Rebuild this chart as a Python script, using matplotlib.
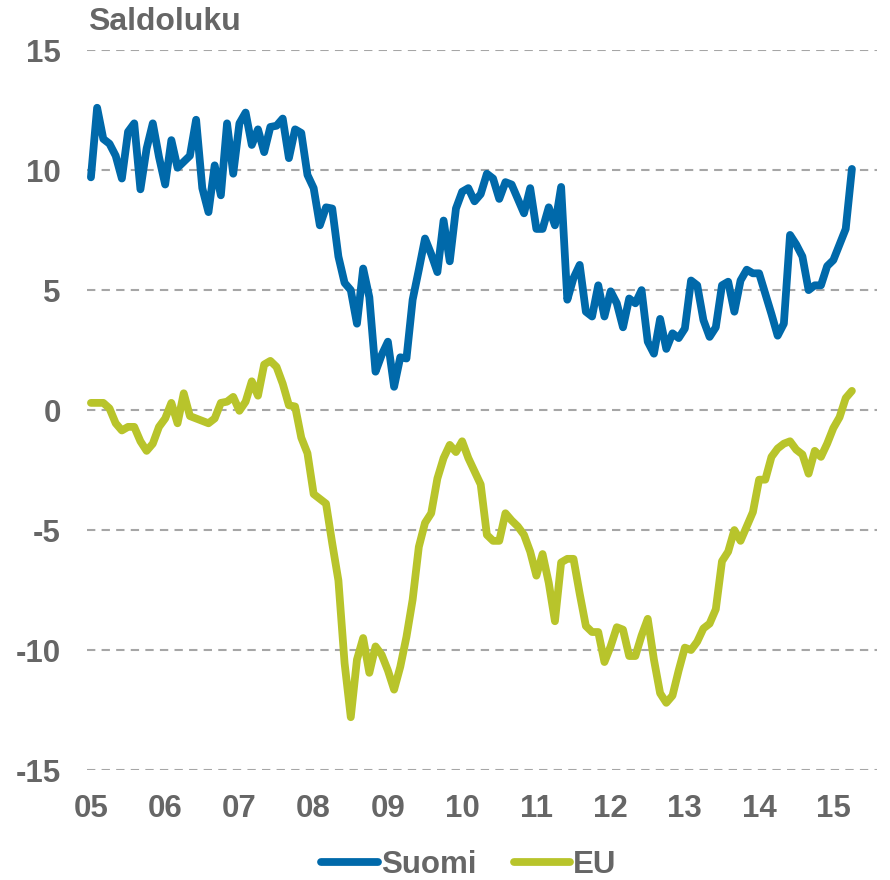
import matplotlib
matplotlib.use("Agg")
from matplotlib import pyplot as plt

# monthly balance figures, Jan 2005 - Apr 2015
suomi = [9.7, 12.6, 11.3, 11.1, 10.6, 9.65, 11.6, 11.95, 9.2, 10.9, 11.95, 10.55,
         9.4, 11.25, 10.1, 10.35, 10.6, 12.1, 9.25, 8.25, 10.2, 8.95, 11.95, 9.85,
         11.95, 12.4, 11.05, 11.7, 10.75, 11.8, 11.85, 12.15, 10.5, 11.7, 11.55, 9.8,
         9.25, 7.7, 8.45, 8.4, 6.4, 5.3, 5.0, 3.6, 5.9, 4.7, 1.6, 2.3,
         2.85, 0.97, 2.2, 2.15, 4.6, 5.85, 7.15, 6.5, 5.75, 7.9, 6.2, 8.4,
         9.1, 9.25, 8.7, 9.0, 9.85, 9.65, 8.8, 9.5, 9.4, 8.8, 8.2, 9.25,
         7.55, 7.55, 8.45, 7.7, 9.3, 4.6, 5.5, 6.05, 4.1, 3.9, 5.2, 3.9,
         4.95, 4.45, 3.45, 4.65, 4.45, 5.0, 2.85, 2.35, 3.8, 2.55, 3.2, 3.0,
         3.4, 5.4, 5.2, 3.75, 3.05, 3.45, 5.2, 5.35, 4.1, 5.4, 5.85, 5.7,
         5.7, 4.85, 4.0, 3.1, 3.6, 7.3, 6.9, 6.4, 5.0, 5.2, 5.2, 6.0,
         6.25, 6.9, 7.55, 10.05]
eu = [0.3, 0.3, 0.3, 0.07, -0.55, -0.85, -0.7, -0.7, -1.3, -1.7, -1.4, -0.7,
      -0.35, 0.3, -0.55, 0.7, -0.25, -0.35, -0.45, -0.55, -0.35, 0.3, 0.35, 0.55,
      -0.03, 0.35, 1.2, 0.6, 1.9, 2.05, 1.8, 1.1, 0.2, 0.15, -1.15, -1.8,
      -3.5, -3.7, -3.9, -5.55, -7.1, -10.55, -12.8, -10.4, -9.5, -10.95, -9.85, -10.2,
      -10.85, -11.65, -10.7, -9.45, -7.9, -5.7, -4.7, -4.3, -2.85, -2.0, -1.45, -1.75,
      -1.3, -2.0, -2.55, -3.1, -5.2, -5.45, -5.45, -4.3, -4.6, -4.85, -5.2, -5.9,
      -6.9, -6.0, -7.2, -8.8, -6.35, -6.2, -6.2, -7.65, -9.0, -9.25, -9.25, -10.5,
      -9.85, -9.05, -9.15, -10.25, -10.25, -9.4, -8.7, -10.4, -11.8, -12.2, -11.9, -10.85,
      -9.9, -10.0, -9.65, -9.1, -8.9, -8.3, -6.3, -5.9, -5.0, -5.45, -4.85, -4.25,
      -2.9, -2.9, -1.95, -1.6, -1.4, -1.3, -1.65, -1.85, -2.65, -1.7, -1.95, -1.4,
      -0.75, -0.3, 0.5, 0.8]
year_labels = ['05', '06', '07', '08', '09', '10', '11', '12', '13', '14', '15']
y_ticks = [-15, -10, -5, 0, 5, 10, 15]

plt.rcParams['font.family'] = ['Liberation Sans', 'DejaVu Sans']
plt.rcParams['font.weight'] = 'bold'
gray = '#666666'

fig = plt.figure(figsize=(8.9, 8.8), dpi=100)
ax = fig.add_axes([0.098, 0.125, 0.887, 0.818])

months = range(len(suomi))
ax.plot(months, suomi, color='#0069aa', lw=5.6, label='Suomi',
        solid_capstyle='round', solid_joinstyle='round')
ax.plot(range(len(eu)), eu, color='#b8c42b', lw=5.6, label='EU',
        solid_capstyle='round', solid_joinstyle='round')

for v in y_ticks:
    ax.axhline(v, color='#a6a6a6', lw=1.5, ls=(0, (4, 3)), zorder=0)

ax.set_ylim(-15, 15)
ax.set_xlim(-0.6, 127)
ax.set_yticks(y_ticks)
ax.set_yticklabels([str(v) for v in y_ticks])
ax.set_xticks([12 * i for i in range(len(year_labels))])
ax.set_xticklabels(year_labels)
ax.tick_params(length=0, labelsize=22.5, labelcolor=gray)
ax.tick_params(axis='y', pad=19)
ax.tick_params(axis='x', pad=17)
for s in ax.spines.values():
    s.set_visible(False)

fig.text(0.099, 1 - 22 / 880, 'Saldoluku', fontsize=23, color=gray,
         fontweight='bold', va='center', ha='left')

leg = fig.legend(loc='center', bbox_to_anchor=(0.527, 1 - 865 / 880), ncol=2,
                 frameon=False, fontsize=22.5, handlelength=1.8, handletextpad=0.1,
                 columnspacing=1.2)
for t in leg.get_texts():
    t.set_color(gray)
for h in leg.get_lines():
    h.set_solid_capstyle('round')

fig.savefig('out.png', dpi=100)
